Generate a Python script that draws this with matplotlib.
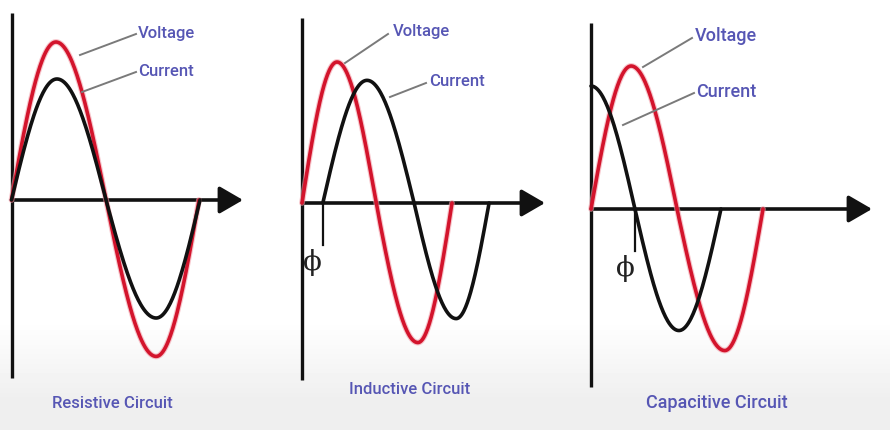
import numpy as np
import matplotlib.pyplot as plt

# waveform landmarks (degrees) and levels (fraction of voltage peak)
# each curve is drawn through its zero / peak / zero / trough / zero points
res_v_x = [0, 85, 181, 277, 359]
res_v_y = [0, 1.0, 0, -0.99, 0]
res_i_x = [0, 87, 181, 277, 361]
res_i_y = [0, 0.766, 0, -0.747, 0]

ind_v_x = [0, 84, 178, 278, 360]
ind_v_y = [0, 1.0, 0, -0.99, 0]
ind_i_x = [50, 156, 269, 370, 449]
ind_i_y = [0, 0.87, 0, -0.82, 0]

cap_v_x = [0, 84, 180, 280, 360]
cap_v_y = [0, 1.0, 0, -0.99, 0]
cap_i_x = [0, 92, 184, 272]
cap_i_y = [0.86, 0, -0.85, 0]

titles = ['Resistive Circuit', 'Inductive Circuit', 'Capacitive Circuit']
phase_shift = [None, 50, 92]

RED = '#d3142c'
TXT = '#5656b4'
W, H = 890, 430


def wave(xs, ys, n=60):
    '''Quarter-sine segments between the landmark points.'''
    px, py = [], []
    for x0, x1, y0, y1 in zip(xs[:-1], xs[1:], ys[:-1], ys[1:]):
        t = np.linspace(0, 1, n)
        if y0 == 0:
            seg = y1 * np.sin(np.pi / 2 * t)
        else:
            seg = y0 * np.cos(np.pi / 2 * t)
        px.append(x0 + (x1 - x0) * t)
        py.append(seg)
    return np.concatenate(px), np.concatenate(py)


# panel layout in pixels: left, right, origin x, origin y, px/deg, px/unit,
# axis top, axis bottom, arrow tip
panels = [
    dict(l=0, r=290, ox=11.5, oy=200, ppd=188 / 360, ppu=158, top=13, bot=378, tip=243),
    dict(l=290, r=580, ox=302, oy=203, ppd=150 / 360, ppu=141, top=18, bot=380, tip=545),
    dict(l=580, r=890, ox=591, oy=209, ppd=172 / 360, ppu=143, top=23, bot=387, tip=872),
]

curves = [
    (res_v_x, res_v_y, res_i_x, res_i_y),
    (ind_v_x, ind_v_y, ind_i_x, ind_i_y),
    (cap_v_x, cap_v_y, cap_i_x, cap_i_y),
]

# label positions (pixels): voltage text, current text, leader lines
labels = [
    dict(vt=(138, 33), it=(138, 71), vl=((80, 55), (136, 34)), il=((82, 92), (136, 72)),
         tt=(112, 404), fs=12),
    dict(vt=(393, 31), it=(429, 81), vl=((345, 63), (388, 34)), il=((390, 97), (426, 83)),
         tt=(410, 389), fs=12),
    dict(vt=(695, 36), it=(696, 92), vl=((643, 67), (692, 38)), il=((623, 125), (694, 93)),
         tt=(717, 403), fs=13),
]

fig = plt.figure(figsize=(W / 100, H / 100), dpi=100)

# background: white fading to light grey at the bottom
bg = fig.add_axes([0, 0, 1, 1])
grad = np.ones((H, 1))
yy = np.arange(H)
grad[:, 0] = 1 - 0.065 * np.clip((yy - 320) / 80, 0, 1)
bg.imshow(grad, cmap='gray', vmin=0, vmax=1, aspect='auto', extent=[0, W, H, 0])
bg.set_xlim(0, W)
bg.set_ylim(H, 0)
bg.axis('off')

font = ['Liberation Sans Narrow', 'Roboto', 'DejaVu Sans']

for p, (vx, vy, ix, iy), lab, title, phi in zip(panels, curves, labels, titles, phase_shift):
    ax = fig.add_axes([p['l'] / W, 0, (p['r'] - p['l']) / W, 1])
    ax.patch.set_alpha(0)
    ax.set_xlim((p['l'] - p['ox']) / p['ppd'], (p['r'] - p['ox']) / p['ppd'])
    ax.set_ylim((p['oy'] - H) / p['ppu'], p['oy'] / p['ppu'])
    ax.axis('off')

    def to_data(pt):
        return ((pt[0] - p['ox']) / p['ppd'], (p['oy'] - pt[1]) / p['ppu'])

    # axes
    ax.plot([0, 0], [(p['oy'] - p['bot']) / p['ppu'], (p['oy'] - p['top']) / p['ppu']],
            color='#111111', lw=2.4, solid_capstyle='butt', zorder=3)
    tip = (p['tip'] - p['ox']) / p['ppd']
    ax.annotate('', xy=(tip, 0), xytext=(0, 0),
                arrowprops=dict(arrowstyle='-|>,head_length=1.0,head_width=0.58',
                                mutation_scale=14.4, lw=2.6, color='#111111',
                                shrinkA=0, shrinkB=0), zorder=4)

    # curves
    x, y = wave(vx, vy)
    ax.plot(x, y, color='#f2a0aa', lw=4.2, alpha=0.6, zorder=5, solid_capstyle='round')
    ax.plot(x, y, color=RED, lw=2.6, zorder=6, solid_capstyle='round')
    x, y = wave(ix, iy)
    ax.plot(x, y, color='#111111', lw=2.6, zorder=7, solid_capstyle='round')

    # phase marker
    if phi is not None:
        drop = 42 / p['ppu']
        ax.plot([phi, phi], [0, -drop], color='#111111', lw=1.6, zorder=7)
        ax.text(phi - 10 / p['ppd'], -60 / p['ppu'], '\u03d5', family='DejaVu Serif',
                fontsize=20, color='#222222', ha='center', va='center', zorder=8)

    # labels with leader lines
    for (a, b) in (lab['vl'], lab['il']):
        pa, pb = to_data(a), to_data(b)
        ax.plot([pa[0], pb[0]], [pa[1], pb[1]], color='#7a7a7a', lw=1.4, zorder=8)
    ax.text(*to_data(lab['vt']), 'Voltage', family=font, fontsize=lab['fs'],
            weight='medium', color=TXT, ha='left', va='center', zorder=9)
    ax.text(*to_data(lab['it']), 'Current', family=font, fontsize=lab['fs'],
            weight='medium', color=TXT, ha='left', va='center', zorder=9)
    ax.text(*to_data(lab['tt']), title, family=font, fontsize=lab['fs'],
            weight='medium', color=TXT, ha='center', va='center', zorder=9)

fig.savefig('out.png', dpi=100)
